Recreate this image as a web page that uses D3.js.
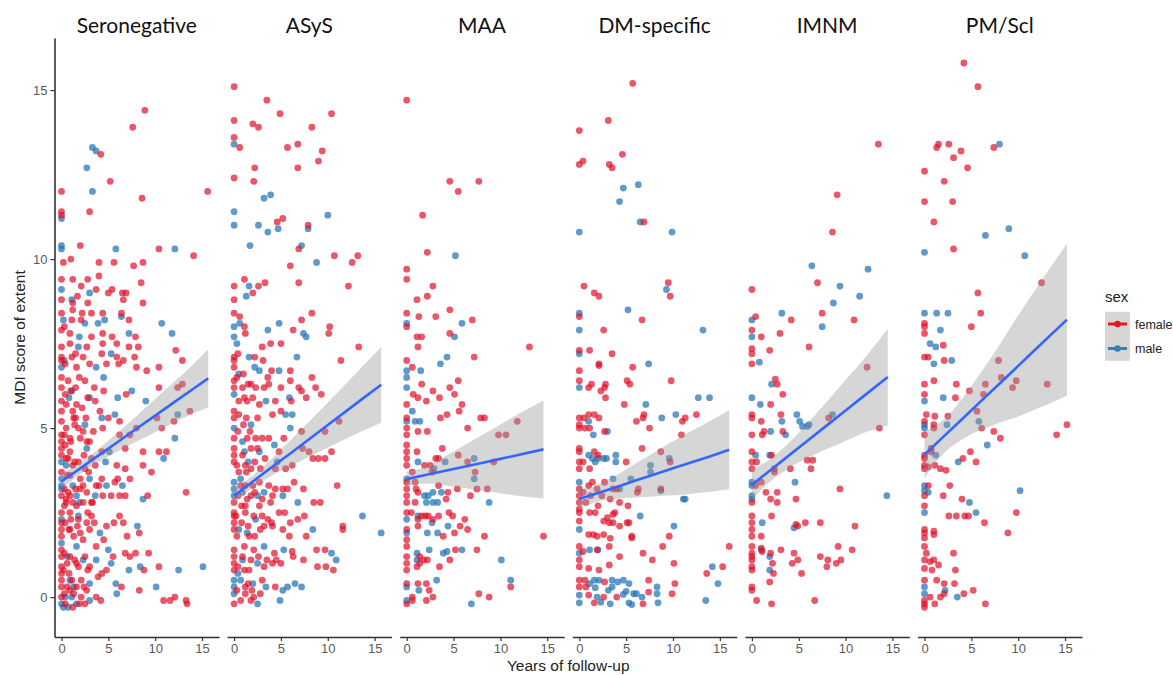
<!DOCTYPE html>
<html><head><meta charset="utf-8">
<script src="https://cdn.jsdelivr.net/npm/d3@7"></script>
<style>body{margin:0;background:#fff}svg{display:block}</style>
</head><body><svg id="c" width="1173" height="675"></svg>
<script>
const panels = ["Seronegative","ASyS","MAA","DM-specific","IMNM","PM/Scl"];
const xTicks = [0,5,10,15];
const yTicks = [0,5,10,15];
const sexes = ["female","male"];

const seronegativeFemale = [[8.9,14.4],[7.6,13.9],[4.2,13.1],[5.2,12.3],[0,12.0],[8.6,11.8],[15.6,12.0],[0,11.4],[0,11.3],[3.0,11.4],[2.0,10.4],[10.4,10.3],[14.1,10.1],[1.0,10.0],[4.0,9.9],[5.6,9.9],[7.7,9.8],[8.7,9.9],[0,9.4],[1.2,9.4],[2.1,9.2],[2.8,9.4],[4.0,9.5],[8.5,9.3],[3.7,9.1],[5.0,9.0],[5.4,9.1],[6.5,9.0],[6.9,9.0],[6.6,8.8],[8.7,8.7],[0,8.8],[1.2,8.7],[2.8,8.7],[0,8.4],[1.2,8.5],[2.2,8.4],[3.2,8.4],[4.4,8.4],[6.4,8.4],[1.1,8.2],[2.1,8.2],[7.2,8.2],[0,7.9],[0.9,7.8],[3.2,7.7],[4.4,7.8],[5.4,7.7],[7.9,7.7],[0,7.4],[0.9,7.5],[2.7,7.4],[4.4,7.5],[5.9,7.5],[7.2,7.4],[8.2,7.4],[0,7.1],[0,7.0],[1.1,7.1],[2.3,7.1],[3.0,6.9],[4.3,7.2],[5.9,7.1],[6.6,7.0],[7.8,7.1],[1.6,6.8],[4.8,6.9],[6.1,6.9],[8.0,6.8],[9.1,6.7],[10.4,6.8],[12.2,7.3],[12.9,7.0],[0,6.5],[0,6.2],[0.7,6.4],[1.9,6.5],[2.5,6.4],[3.5,6.2],[4.5,6.1],[6.9,6.0],[10.4,6.2],[12.4,6.2],[12.9,6.3],[1.6,5.7],[3.6,5.8],[0,5.8],[0,5.5],[0,5.2],[1.2,5.5],[2.2,5.6],[4.1,5.5],[13.7,5.5],[1.3,5.3],[2.6,5.3],[5.0,5.3],[6.2,5.2],[10.2,5.3],[12.0,5.2],[10.7,5.0],[0.5,5.0],[1.8,5.0],[3.4,4.9],[4.4,5.0],[6.2,4.8],[7.3,4.8],[8.0,5.0],[0,4.8],[0,4.6],[0.9,4.7],[2.0,4.7],[2.7,4.6],[0,4.4],[0,4.2],[0.9,4.3],[4.3,4.3],[6.8,4.4],[8.7,4.3],[10.4,4.3],[11.2,4.3],[0.7,4.1],[1.8,4.0],[3.2,4.1],[3.6,3.9],[5.9,3.9],[6.8,3.8],[8.7,3.9],[9.6,3.7],[0,3.7],[0,3.0],[0.9,3.6],[2.0,3.5],[4.3,3.5],[6.0,3.5],[7.3,3.5],[2.3,3.3],[3.7,3.3],[5.7,3.4],[13.3,3.1],[0.7,3.1],[2.7,3.1],[4.4,3.0],[5.3,3.0],[6.2,3.0],[6.8,3.0],[9.2,3.0],[0.5,2.8],[1.2,2.8],[2.3,2.8],[3.2,2.8],[0,2.5],[0,2.2],[0,2.0],[0,1.8],[0.9,2.5],[2.8,2.5],[2.7,2.2],[6.2,2.4],[4.8,2.1],[5.6,2.2],[6.6,2.2],[8.3,1.9],[7.0,1.8],[0.9,2.0],[2.0,1.9],[3.0,2.0],[3.7,1.5],[6.8,1.3],[7.3,1.2],[7.9,1.3],[9.3,1.3],[0,1.4],[0,1.2],[0,0.9],[0,0.7],[0.9,1.2],[2.8,0.8],[4.3,0.7],[4.8,0.8],[8.8,0.8],[10.4,0.9],[0,0.5],[0,0.3],[0,0],[2.1,0.5],[6.4,0.3],[0.9,0.2],[1.6,0.3],[2.7,0.2],[3.7,0],[4.2,-0.1],[2.1,0],[8.3,0.2],[10.9,-0.1],[11.6,-0.1],[12.1,0],[13.3,-0.1],[13.4,-0.2],[0.3,3.2],[0.5,2.9],[1.5,3.2],[1.0,4.6],[1.5,5.3],[0.4,6.0],[1.5,6.2],[0.3,1.3],[0.6,1.0],[1.4,1.1],[1.8,0.9],[0.4,-0.2],[1.2,-0.3],[2.5,-0.2],[1.0,2.3],[1.7,2.1],[0.4,4.5],[1.4,4.0],[2.5,3.8],[3.0,4.6],[0.3,0.1],[0.6,0.3],[1.3,0.1],[1.9,-0.2],[2.4,0.3],[0.2,0.8],[0.8,0.7],[1.6,1.0],[2.5,1.2],[3.0,0.9],[0.4,2.2],[1.3,1.8],[1.8,2.3],[2.3,1.7],[3.5,2.2],[0.3,2.7],[0.9,3.0],[1.6,2.7],[2.0,3.2],[3.3,2.8],[0.6,3.6],[1.2,3.9],[2.4,4.2],[2.9,3.7],[0.3,4.8],[1.4,5.1],[2.3,4.9],[0.5,5.7],[1.0,6.1],[2.8,5.9],[0.4,6.9],[1.5,7.2],[0.3,8.0],[1.7,8.9],[4.0,3.3],[3.2,2.4],[4.5,1.7],[3.9,0.6],[5.5,1.2],[0.2,9.9],[0.5,4.1],[0.8,2.0],[1.1,0.5]];
const seronegativeMale = [[3.3,13.3],[3.7,13.2],[2.7,12.7],[3.3,12.0],[0,11.2],[0,10.4],[0,10.3],[5.8,10.3],[12.1,10.3],[0,9.1],[3.0,9.0],[1.1,8.8],[0.2,8.2],[2.5,8.1],[3.9,8.1],[4.6,8.2],[6.4,8.3],[10.7,8.1],[11.8,7.8],[1.9,7.7],[7.2,7.8],[1.8,7.4],[5.3,7.2],[0,6.8],[3.7,6.8],[4.5,6.5],[6.0,5.9],[7.5,6.1],[0.8,5.9],[3.0,5.9],[9.0,5.8],[12.4,5.4],[4.3,5.3],[5.7,5.4],[2.5,5.1],[12.1,4.7],[0,4.0],[2.7,4.4],[5.1,4.3],[10.9,4.1],[4.7,4.0],[0,3.5],[0,3.3],[0,3.2],[3.0,3.5],[1.2,3.3],[4.8,3.3],[6.5,3.3],[1.6,3.0],[3.6,3.0],[8.7,2.9],[1.8,2.4],[8.1,2.1],[4.1,1.9],[1.6,1.5],[5.0,1.4],[2.3,1.1],[3.7,1.1],[5.3,1.0],[7.2,0.8],[8.4,0.9],[12.5,0.8],[15.1,0.9],[0,-0.2],[0.9,0.5],[3.0,0.4],[5.8,0.4],[5.9,0.1],[1.1,0.0],[3.0,-0.1],[10.1,0.3],[0.2,-0.3],[0.7,-0.3],[1.6,-0.2],[0,1.6],[0,2.3],[0.4,0.0],[1.3,0.3],[0.6,1.2],[1.9,2.8],[0.5,3.9],[1.1,6.1],[0.3,7.0]];

const asysFemale = [[0,15.1],[3.5,14.7],[0,14.1],[2.0,14.0],[2.6,13.9],[4.9,14.3],[10.4,14.3],[8.3,13.9],[0,13.6],[0.6,13.3],[5.7,13.3],[6.8,13.4],[9.4,13.2],[9.0,12.9],[2.2,12.7],[6.8,12.7],[0,12.4],[2.1,12.3],[4.6,11.1],[5.2,11.2],[7.9,11.0],[6.9,10.3],[6.0,9.8],[10.7,10.1],[12.6,9.9],[13.2,10.1],[12.2,9.2],[6.9,9.3],[0,9.2],[1.1,9.4],[2.0,9.0],[2.6,9.2],[3.3,9.3],[0,8.8],[0,8.4],[1.1,8.0],[1.2,7.8],[6.3,7.9],[7.2,8.2],[8.3,8.4],[10.2,8.0],[10.1,7.8],[13.3,7.4],[3.0,7.4],[3.9,7.5],[5.0,7.5],[0,7.1],[0,7.0],[0,6.8],[2.2,7.1],[3.1,7.0],[11.4,7.0],[4.0,6.7],[6.0,6.7],[3.6,6.5],[6.0,6.4],[8.3,6.5],[0,6.4],[0,6.2],[0.9,6.2],[1.8,6.3],[2.3,6.2],[3.2,6.2],[3.7,6.3],[5.0,6.2],[6.9,6.2],[7.2,6.1],[8.7,6.2],[9.3,6.0],[1.1,5.9],[1.4,5.8],[2.0,5.9],[2.7,5.7],[4.4,5.8],[6.1,5.8],[7.7,5.9],[0,5.5],[0,5.3],[0,4.7],[0.5,5.4],[1.3,5.3],[2.5,5.3],[4.1,5.4],[5.0,5.5],[11.2,5.2],[2.3,4.7],[3.0,4.7],[1.4,4.7],[3.7,4.7],[5.3,4.7],[7.2,4.9],[9.7,4.9],[0,4.4],[0,4.2],[0,4.0],[1.8,4.4],[3.3,4.1],[7.3,4.4],[8.0,4.3],[8.4,4.1],[9.0,4.1],[9.7,4.1],[10.4,4.3],[5.5,3.8],[6.2,3.9],[4.4,3.8],[0.5,3.7],[1.8,3.8],[2.8,3.8],[0,2.8],[0.7,3.3],[1.2,3.3],[2.0,3.3],[2.7,3.4],[3.7,3.3],[4.4,3.2],[5.2,3.2],[5.7,3.2],[6.4,3.4],[7.4,3.2],[11.0,3.3],[1.8,3.0],[4.1,3.0],[8.5,2.8],[9.2,2.8],[1.2,2.7],[2.7,2.7],[3.9,2.8],[0,2.5],[0,2.4],[0,2.2],[0,2.0],[1.2,2.5],[2.1,2.4],[3.0,2.4],[4.8,2.5],[6.0,2.2],[6.8,2.3],[7.5,2.4],[11.6,2.1],[11.6,2.0],[7.7,1.8],[1.6,1.8],[3.2,2.1],[4.1,2.1],[5.2,2.0],[5.9,1.8],[0,1.4],[0,1.2],[0,1.0],[0,0.8],[1.1,1.5],[2.1,1.4],[4.3,1.3],[6.2,1.35],[1.8,1.1],[4.1,1.0],[5.0,1.0],[7.4,1.1],[8.8,1.4],[9.7,1.4],[8.9,0.9],[9.8,0.9],[10.6,0.8],[1.1,0.8],[3.2,0.9],[0,-0.2],[1.2,0.3],[3.0,0.5],[4.4,0.3],[1.2,0.1],[2.1,0.0],[1.8,-0.1],[0.3,0.2],[0.7,-0.1],[1.5,0.4],[0.4,0.9],[0.9,1.2],[1.6,0.8],[2.6,1.2],[3.5,1.1],[0.3,1.8],[0.8,2.2],[1.5,2.1],[2.2,1.8],[2.8,2.0],[3.6,2.3],[0.4,3.0],[0.8,2.7],[1.4,2.9],[2.2,3.1],[3.0,2.9],[0.3,3.9],[0.9,4.2],[1.3,3.7],[2.2,4.0],[2.5,4.4],[0.4,4.9],[1.0,5.1],[1.7,4.9],[0.5,5.8],[1.5,6.3],[0.4,7.2],[1.0,6.6],[0.6,8.3],[4.8,4.3],[4.0,2.2],[5.4,2.5],[4.5,1.1],[6.3,1.2],[0.2,2.4],[1.9,0.2],[2.8,0.1],[0.3,6.5],[1.2,3.9]];
const asysMale = [[0,13.4],[3.2,11.8],[3.9,11.9],[0,11.4],[0,11.0],[2.6,11.0],[3.6,10.8],[4.7,10.9],[7.9,10.9],[10.0,11.3],[1.7,10.4],[7.2,10.4],[8.8,9.9],[1.6,9.2],[1.3,8.9],[0,8.0],[0.6,8.1],[0,7.7],[3.6,7.9],[4.8,8.1],[7.4,7.8],[7.7,7.7],[0.3,7.5],[1.6,7.1],[6.7,7.1],[2.2,6.8],[2.7,6.7],[4.8,6.7],[0,6.0],[3.4,5.8],[5.9,5.9],[0,5.0],[5.5,5.4],[6.2,5.4],[6.0,5.0],[1.8,5.1],[0.9,4.6],[4.3,4.5],[1.1,4.3],[2.7,4.3],[4.6,4.0],[0,3.4],[0,3.2],[0,3.0],[0.9,3.1],[2.5,3.0],[3.2,3.1],[5.2,3.0],[6.8,2.8],[13.7,2.4],[15.7,1.9],[8.4,2.0],[0.5,2.0],[3.2,1.5],[5.3,1.4],[0.9,1.1],[2.5,1.0],[10.4,1.3],[10.9,1.1],[0,0.5],[0,0.3],[0,0.1],[0.7,0.5],[2.0,0.4],[5.2,0.2],[5.7,0.3],[6.5,0.4],[7.2,0.3],[4.9,-0.1],[2.5,-0.2],[0.4,0.7],[1.4,1.9],[0.7,3.5],[1.5,4.0],[0.5,6.6],[3.4,0.3],[2.3,2.3]];

const maaFemale = [[0,14.7],[4.6,12.3],[5.5,12.0],[7.7,12.3],[1.7,11.3],[2.2,10.2],[0,9.7],[0,9.4],[2.8,9.2],[1.1,8.8],[2.2,8.9],[0,8.4],[1.3,8.3],[3.1,8.3],[4.6,8.5],[0,8.0],[7.0,8.2],[4.6,7.8],[1.1,7.7],[1.6,7.7],[1.2,7.4],[7.2,7.1],[13.1,7.4],[0,7.0],[0.6,6.8],[1.6,6.3],[0.7,6.0],[2.8,6.1],[3.5,5.9],[4.6,6.2],[5.1,6.0],[5.5,6.4],[1.2,5.9],[2.1,5.8],[5.9,5.7],[0,5.7],[0,5.3],[3.6,5.3],[4.3,5.4],[5.6,5.5],[7.9,5.3],[8.3,5.3],[11.8,5.2],[0,5.0],[0,4.8],[1.2,4.9],[2.2,4.9],[6.5,5.0],[9.8,4.8],[10.6,4.8],[0,4.5],[0,4.3],[0,4.1],[0,3.9],[1.1,4.3],[3.8,4.4],[5.5,4.2],[0.6,3.7],[1.9,3.9],[2.5,3.9],[3.1,4.1],[3.4,4.1],[2.7,3.7],[6.5,4.0],[7.3,3.7],[9.3,4.0],[0,3.4],[0,3.2],[0,3.0],[0,2.8],[0.9,3.4],[1.0,3.2],[1.2,3.1],[3.4,3.3],[4.4,3.1],[5.4,3.2],[6.8,3.0],[7.5,3.2],[8.6,3.2],[0.9,2.8],[4.2,2.9],[0,2.5],[0,2.0],[0,1.7],[0.5,2.5],[1.6,2.4],[2.3,2.4],[2.8,2.3],[3.4,2.4],[1.2,2.3],[2.0,2.4],[1.2,2.1],[4.5,2.5],[4.9,2.4],[5.7,2.1],[6.2,2.3],[6.5,2.0],[5.1,1.9],[3.9,1.8],[8.3,1.8],[14.6,1.8],[0,1.5],[0,1.2],[0,1.0],[0,0.8],[1.4,1.2],[1.8,1.1],[2.2,1.1],[1.1,0.9],[1.4,1.0],[3.5,0.9],[4.6,1.1],[5.2,1.4],[7.5,1.4],[0,0.4],[0,-0.2],[1.2,0.4],[2.1,0.4],[2.4,0.2],[0.6,0],[0.6,-0.1],[2.1,-0.1],[2.8,0],[7.7,0.1],[8.8,0],[11.1,0.3]];
const maaMale = [[5.2,10.1],[0,8.1],[5.9,8.1],[5.1,7.7],[0,6.7],[1.5,6.7],[3.6,6.9],[4.3,7.1],[0,6.5],[0,6.2],[0.6,5.5],[0,5.2],[0.9,5.2],[1.4,5.2],[1.2,4.0],[4.1,4.0],[2.9,3.8],[7.2,4.1],[0,3.5],[1.9,3.0],[2.3,3.0],[2.8,3.1],[3.7,3.1],[7.2,3.5],[8.8,2.8],[2.1,2.8],[2.8,2.8],[3.3,2.8],[0,2.3],[0,1.9],[1.2,2.4],[2.2,1.9],[2.7,2.2],[3.3,1.9],[4.4,2.1],[1.1,1.3],[2.4,1.4],[1.1,1.1],[3.9,1.3],[4.3,1.35],[5.9,1.4],[10.1,1.1],[0,0.3],[0,-0.1],[1.3,0.2],[3.2,0.5],[6.9,-0.2],[11.1,0.5]];

const dmFemale = [[5.7,15.2],[3.1,14.1],[0,13.8],[0,12.8],[0.4,12.9],[3.2,12.8],[3.5,12.7],[4.6,13.1],[6.9,11.1],[0.5,9.2],[1.6,9.0],[2.1,8.9],[9.5,9.3],[9.7,8.9],[0,8.3],[6.7,8.2],[2.6,7.9],[0,7.3],[1.1,7.3],[3.5,7.2],[2.1,6.9],[2.1,6.85],[5.7,6.8],[0,6.7],[0,6.4],[1.0,6.2],[1.3,6.3],[2.8,6.3],[2.3,6.1],[2.7,6.2],[2.8,5.9],[5.1,6.4],[5.4,6.3],[9.8,6.4],[4.8,5.7],[0,5.3],[0,5.1],[0,5.0],[0.5,5.3],[1.0,5.4],[1.6,5.4],[2.1,5.3],[0.6,5.0],[1.1,5.0],[2.7,4.9],[6.1,5.2],[6.8,5.3],[6.9,5.4],[7.5,5.0],[11.0,5.2],[11.3,5.3],[12.5,5.4],[10.9,4.8],[0,4.4],[0,4.3],[0,4.0],[0,3.8],[1.6,4.3],[2.0,4.2],[0.4,4.0],[5.0,4.0],[6.7,4.4],[8.7,4.3],[9.7,4.0],[1.1,3.8],[0,3.2],[0,3.0],[0,2.8],[0,2.6],[0.4,3.1],[1.0,3.3],[1.4,3.4],[1.9,3.2],[2.7,3.4],[3.6,3.2],[4.0,3.2],[6.3,3.2],[6.2,3.1],[8.7,3.2],[0.7,2.8],[1.2,3.0],[2.0,2.7],[2.4,3.0],[3.3,2.9],[4.3,2.8],[5.2,2.7],[0,2.5],[0,2.25],[1.1,2.5],[1.7,2.5],[2.6,2.25],[3.0,2.35],[3.2,2.2],[3.6,2.45],[3.8,2.5],[3.6,2.2],[4.3,2.1],[5.1,2.2],[5.3,2.2],[9.6,1.8],[5.6,1.8],[5.6,1.75],[1.0,1.85],[1.5,1.85],[1.9,1.8],[2.6,1.85],[3.3,1.74],[0,1.5],[0,1.1],[0,0.9],[0.4,1.35],[1.9,1.4],[3.2,1.5],[4.3,1.2],[6.8,1.3],[7.8,1.1],[8.9,1.5],[10.1,1.0],[16.0,1.5],[13.6,0.7],[15.3,0.9],[1.0,0.85],[2.1,0.8],[3.2,0.95],[0,0.5],[0,0.3],[0.6,0.5],[2.7,0.45],[0.7,0.3],[1.0,0.06],[2.6,0],[4.0,0],[1.6,-0.17],[7.4,0.5],[7.4,0.15],[10.2,0.4],[9.9,0.1],[6.8,-0.2]];
const dmMale = [[4.7,12.1],[6.3,12.2],[4.3,11.7],[6.5,11.1],[0,10.8],[9.9,10.8],[9.3,9.1],[0,8.4],[5.2,8.5],[0,7.9],[13.2,7.9],[0,7.2],[7.4,6.9],[0,6.2],[7.1,5.7],[12.7,5.9],[13.9,5.9],[1.0,5.2],[1.5,4.8],[3.0,4.9],[8.8,5.3],[10.3,5.4],[1.0,4.2],[2.0,4.1],[2.6,4.1],[2.9,4.1],[3.9,4.2],[3.9,4.0],[1.4,4.1],[1.7,4.0],[7.6,3.9],[7.6,3.7],[9.6,4.1],[0,3.4],[3.6,3.5],[4.3,3.2],[5.5,3.5],[8.7,3.15],[11.1,2.9],[11.3,2.9],[0,2.0],[6.5,2.4],[10.1,2.1],[0,1.3],[1.1,1.4],[2.0,1.4],[14.2,0.9],[14.8,0.4],[13.5,-0.1],[0,0.06],[0,-0.17],[1.1,0.4],[1.6,0.5],[2.1,0.5],[3.5,0.5],[4.1,0.45],[4.7,0.5],[5.3,0.4],[1.7,0.28],[3.1,0.2],[3.5,0.3],[5.0,0.17],[5.8,0.1],[6.1,0.1],[1.9,0.0],[4.7,0.08],[6.7,0.0],[2.3,-0.15],[3.3,-0.2],[5.3,-0.17],[5.6,-0.22],[8.3,0.3],[8.3,0.1],[8.4,-0.17]];

const imnmFemale = [[13.5,13.4],[9.1,11.9],[8.6,10.8],[7.0,9.3],[0,9.1],[0.4,8.3],[4.2,8.2],[7.5,8.4],[10.9,8.2],[0,7.9],[1.0,7.7],[3.0,7.8],[6.1,7.4],[0,7.35],[0,7.2],[0,6.9],[1.9,7.3],[12.3,6.8],[2.5,6.45],[2.7,6.3],[3.3,6.0],[2.0,5.7],[0,5.4],[0,5.3],[1.0,5.2],[3.1,5.4],[8.2,5.3],[13.6,5.0],[0,4.8],[1.1,4.8],[1.3,4.9],[3.3,4.9],[0,4.3],[0,4.0],[0.5,4.0],[2.1,4.2],[0,3.8],[2.4,3.8],[2.4,3.7],[4.1,3.8],[5.9,4.05],[6.5,4.05],[6.3,3.8],[1.0,3.4],[0.4,3.3],[1.5,3.1],[2.7,3.1],[2.7,2.8],[2.0,2.9],[0,2.8],[4.7,2.9],[9.4,3.2],[0,2.4],[0,2.2],[0,2.0],[0,1.8],[2.1,2.4],[4.7,2.15],[4.9,2.1],[5.7,2.2],[7.3,2.2],[11.0,2.1],[1.0,1.8],[0,1.5],[0,1.3],[0,1.2],[0,1.1],[0,0.9],[0,0.8],[1.0,1.45],[1.1,1.35],[2.0,1.3],[2.2,1.0],[2.3,0.7],[3.1,1.4],[4.5,1.3],[4.9,1.1],[4.3,1.0],[5.3,0.7],[7.3,1.2],[8.1,1.1],[8.0,0.9],[9.0,1.0],[9.2,1.5],[9.5,1.1],[10.7,1.4],[0,0.3],[0,0.2],[1.9,0.45],[0.5,-0.1],[2.1,-0.2],[6.7,-0.1]];
const imnmMale = [[6.4,9.8],[12.4,9.7],[9.4,9.2],[11.5,8.9],[8.7,8.7],[3.2,8.4],[0,8.2],[7.5,8.0],[0,7.7],[0.8,6.95],[2.1,6.3],[0,5.9],[0.9,5.7],[3.2,5.2],[4.8,5.4],[5.1,5.2],[5.4,5.05],[5.9,5.05],[6.1,5.1],[8.6,5.4],[2.0,4.9],[3.6,4.8],[0.4,4.2],[1.9,4.2],[0,3.4],[0,3.3],[4.6,3.4],[0,3.0],[0,2.9],[14.4,3.0],[1.1,2.2],[4.5,2.05],[1.0,1.4],[1.9,1.2],[1.9,0.8]];

const pmsclFemale = [[4.2,15.8],[5.7,15.1],[1.5,13.4],[1.3,13.3],[2.6,13.4],[3.9,13.2],[3.1,13.0],[4.6,12.7],[7.4,13.3],[0,12.6],[2.1,12.3],[0,11.7],[3.0,11.7],[1.0,11.1],[3.1,10.3],[12.5,9.3],[5.7,9.0],[6.0,8.4],[0,8.1],[0,8.0],[5.0,8.0],[0,7.8],[2.0,7.45],[0,7.1],[0.4,7.1],[2.1,7.0],[7.9,7.0],[0,6.3],[1.0,6.4],[3.4,6.3],[8.2,6.5],[9.8,6.4],[9.4,6.2],[13.1,6.3],[4.8,6.1],[6.5,6.3],[0,6.0],[3.3,5.9],[6.3,6.0],[0.2,5.4],[1.1,5.35],[2.5,5.35],[0,5.2],[0,4.8],[1.0,5.1],[1.0,5.0],[5.6,5.5],[6.1,5.0],[7.4,4.9],[8.1,4.7],[14.1,4.8],[15.2,5.1],[0,4.2],[0,4.1],[0,3.9],[0,3.8],[0.7,4.4],[0.7,4.3],[0.4,3.85],[1.1,3.9],[1.7,3.8],[2.3,3.75],[4.1,4.1],[4.9,4.3],[5.5,4.0],[0,3.0],[0.4,3.3],[2.7,3.3],[2.0,3.0],[4.0,2.9],[0,2.7],[2.6,2.4],[3.4,2.4],[4.3,2.4],[4.7,2.4],[6.4,2.2],[9.8,2.5],[8.9,1.9],[0,2.0],[0,1.9],[0,1.75],[1.0,1.95],[1.0,1.85],[0,1.5],[0.2,1.3],[3.1,1.3],[0,1.1],[0.6,1.05],[1.0,1.1],[1.5,0.95],[0.8,0.8],[0,0.85],[3.3,0.8],[0,0.5],[1.3,0.5],[2.1,0.4],[3.2,0.4],[0.6,0],[1.7,0],[2.1,0.1],[0,-0.1],[0,-0.2],[0,-0.3],[1.1,-0.2],[4.2,0.1],[5.2,0.2],[6.5,-0.2]];
const pmsclMale = [[8.0,13.4],[6.5,10.7],[9.0,10.9],[0,10.2],[10.7,10.1],[0,8.4],[1.3,8.4],[2.5,8.4],[1.7,7.9],[0.6,7.5],[1.2,7.4],[1.0,6.9],[2.9,7.0],[0,5.8],[2.0,5.9],[0,5.1],[0,5.0],[2.4,5.1],[5.8,5.2],[6.7,4.5],[1.2,4.2],[3.6,4.0],[0,3.3],[0,3.15],[0.4,3.1],[4.8,2.8],[10.2,3.15],[0,2.5],[5.5,2.5],[0,0.3],[0,0.1],[2.2,0.2],[3.5,0.0]];

// fitted line rows: [x, fit, lower, upper]
const seronegativeFit = [[0,3.42,3.18,3.66],[2,3.81,3.64,3.98],[4,4.20,4.00,4.40],[6,4.59,4.31,4.87],[8,4.98,4.60,5.36],[10,5.37,4.88,5.86],[12,5.76,5.16,6.36],[14,6.15,5.43,6.87],[15.66,6.47,5.61,7.33]];
const asysFit = [[0,3.00,2.76,3.24],[2,3.42,3.24,3.60],[4,3.84,3.59,4.09],[6,4.25,3.87,4.63],[8,4.67,4.15,5.19],[10,5.09,4.42,5.76],[12,5.51,4.69,6.33],[14,5.93,4.95,6.91],[15.7,6.28,5.16,7.40]];
const maaFit = [[0,3.49,3.27,3.71],[2,3.61,3.36,3.86],[4,3.73,3.31,4.15],[6,3.85,3.23,4.47],[8,3.97,3.15,4.79],[10,4.09,3.07,5.11],[12,4.21,2.99,5.43],[14.6,4.37,2.92,5.82]];
const dmFit = [[0,2.90,2.62,3.18],[2,3.08,2.83,3.33],[4,3.26,2.91,3.61],[6,3.45,2.95,3.95],[8,3.63,2.98,4.28],[10,3.81,3.01,4.61],[12,3.99,3.06,4.92],[14,4.17,3.12,5.22],[16,4.36,3.19,5.53]];
const imnmFit = [[0,3.32,2.88,3.76],[2,3.76,3.43,4.09],[4,4.20,3.82,4.58],[6,4.64,4.12,5.16],[8,5.08,4.38,5.78],[10,5.52,4.62,6.42],[12,5.96,4.86,7.06],[14.5,6.51,5.08,7.94]];
const pmsclFit = [[0,4.21,3.51,4.91],[2,4.74,4.24,5.24],[4,5.26,4.66,5.86],[6,5.79,4.94,6.64],[8,6.31,5.16,7.46],[10,6.84,5.34,8.34],[12,7.37,5.57,9.17],[15.2,8.21,5.96,10.46]];

const femaleSets = [seronegativeFemale, asysFemale, maaFemale, dmFemale, imnmFemale, pmsclFemale];
const maleSets = [seronegativeMale, asysMale, maaMale, dmMale, imnmMale, pmsclMale];
const fitSets = [seronegativeFit, asysFit, maaFit, dmFit, imnmFit, pmsclFit];

const colors = {female:"#E00F29", male:"#2373B5"};
const legendColors = {female:"#E41A1C", male:"#377EB8"};
const svg = d3.select("#c");
const plotTop = 38, plotBottom = 637, panelW = 164.5, stride = 172.6, firstLeft = 54.5;
const y = d3.scaleLinear().domain([-1.18,16.54]).range([plotBottom, plotTop]);
const x = d3.scaleLinear().domain([-0.747,16.81]).range([0, panelW]);
const sans = "Liberation Sans, Arimo, Arial, sans-serif";

panels.forEach((name, i) => {
  const left = firstLeft + i*stride;
  const g = svg.append("g").attr("transform", `translate(${left},0)`);
  const pts = g.append("g");
  pts.selectAll(".m").data(maleSets[i]).join("circle")
    .attr("cx", d=>x(d[0])).attr("cy", d=>y(d[1])).attr("r", 3.4)
    .attr("fill", colors.male).attr("fill-opacity", 0.72);
  pts.selectAll(".f").data(femaleSets[i]).join("circle")
    .attr("cx", d=>x(d[0])).attr("cy", d=>y(d[1])).attr("r", 3.4)
    .attr("fill", colors.female).attr("fill-opacity", 0.7);
  const area = d3.area().x(d=>x(d[0])).y0(d=>y(d[2])).y1(d=>y(d[3])).curve(d3.curveMonotoneX);
  g.append("path").datum(fitSets[i]).attr("d", area).attr("fill", "#999999").attr("fill-opacity", 0.4);
  const line = d3.line().x(d=>x(d[0])).y(d=>y(d[1]));
  g.append("path").datum(fitSets[i]).attr("d", line).attr("fill","none").attr("stroke","#3366FF").attr("stroke-width",2.6);
  const ax = g.append("g").attr("transform", `translate(0,${plotBottom})`)
    .call(d3.axisBottom(x).tickValues(xTicks).tickSize(4).tickSizeOuter(0).tickPadding(3));
  ax.select(".domain").attr("stroke","#333").attr("stroke-width",1.6);
  ax.selectAll(".tick line").attr("stroke","#333").attr("stroke-width",1.2);
  ax.selectAll(".tick text").attr("fill","#5a5a5a").attr("font-family", sans).attr("font-size",13);
  g.append("text").attr("x", panelW/2).attr("y", 33).attr("text-anchor","middle")
    .attr("font-family","Lato, Open Sans, sans-serif").attr("font-size",21).attr("fill","#111").text(name);
});

const ay = svg.append("g").attr("transform", `translate(${firstLeft},0)`)
  .call(d3.axisLeft(y).tickValues(yTicks).tickSize(4).tickSizeOuter(0).tickPadding(3));
ay.select(".domain").attr("stroke","#333").attr("stroke-width",1.6);
ay.selectAll(".tick line").attr("stroke","#333").attr("stroke-width",1.2);
ay.selectAll(".tick text").attr("fill","#5a5a5a").attr("font-family", sans).attr("font-size",13);

svg.append("text").attr("x", (firstLeft + firstLeft + 5*stride + panelW)/2).attr("y", 671)
  .attr("text-anchor","middle").attr("font-family", sans).attr("font-size",15.5).attr("fill","#222").text("Years of follow-up");
svg.append("text").attr("transform", `translate(25,${(plotTop+plotBottom)/2}) rotate(-90)`)
  .attr("text-anchor","middle").attr("font-family", sans).attr("font-size",15.5).attr("fill","#222").text("MDI score of extent");

const lg = svg.append("g").attr("transform","translate(1105,0)");
lg.append("text").attr("x",0).attr("y",302).attr("font-family", sans).attr("font-size",15).attr("fill","#222").text("sex");
sexes.forEach((s, k) => {
  const cy = 324 + k*24.5;
  lg.append("rect").attr("x",0).attr("y",cy-12.25).attr("width",25).attr("height",24.5).attr("fill","#999").attr("fill-opacity",0.4);
  lg.append("line").attr("x1",3).attr("x2",22).attr("y1",cy).attr("y2",cy).attr("stroke",legendColors[s]).attr("stroke-width",3);
  lg.append("circle").attr("cx",12.5).attr("cy",cy).attr("r",3.2).attr("fill",legendColors[s]);
  lg.append("text").attr("x",30).attr("y",cy+4.5).attr("font-family", sans).attr("font-size",12.5).attr("fill","#222").text(s);
});
</script></body></html>
